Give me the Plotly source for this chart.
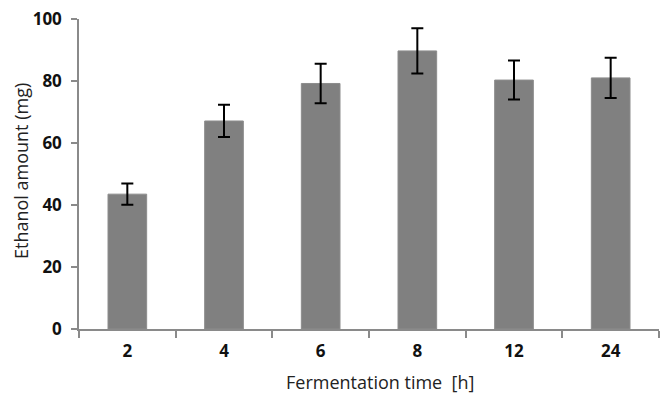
import plotly.graph_objects as go

categories = ["2", "4", "6", "8", "12", "24"]
ethanol = [43.5, 67.1, 79.2, 89.7, 80.3, 81.0]
err = [3.4, 5.2, 6.4, 7.3, 6.3, 6.5]
y_ticks = [0, 20, 40, 60, 80, 100]

fig = go.Figure(go.Bar(
    x=categories, y=ethanol,
    marker=dict(color="#808080", line=dict(color="#8c8c8c", width=1)),
    width=0.4,
    error_y=dict(type="data", array=err, color="black", thickness=2, width=6),
))

fig.update_layout(
    width=660, height=395,
    margin=dict(l=79, r=1, t=19, b=66),
    paper_bgcolor="white", plot_bgcolor="white",
    showlegend=False,
    font=dict(family="Open Sans", color="#222"),
    annotations=[
        dict(text="Fermentation time  [h]", xref="paper", yref="paper",
             x=0.5, y=0, xshift=11, yshift=-53, showarrow=False,
             xanchor="center", yanchor="middle",
             font=dict(family="Open Sans", size=18, color="#222")),
        dict(text="Ethanol amount (mg)", xref="paper", yref="paper",
             x=0, y=0.5, xshift=-58, yshift=3, showarrow=False, textangle=-90,
             xanchor="center", yanchor="middle",
             font=dict(family="Open Sans", size=18, color="#222")),
    ],
)
fig.update_xaxes(
    type="category",
    showline=True, linecolor="#8a8a8a", linewidth=1.5,
    ticks="outside", tickson="boundaries", ticklen=7, tickcolor="#8a8a8a", tickwidth=1.5,
    tickfont=dict(family="Open Sans", size=17, color="#111", weight="bold"),
    ticklabelstandoff=6,
    showgrid=False,
)
fig.update_yaxes(
    range=[0, 100], tickvals=y_ticks,
    showline=True, linecolor="#8a8a8a", linewidth=1.5,
    ticks="outside", ticklen=6, tickcolor="#8a8a8a", tickwidth=1.5,
    tickfont=dict(family="Open Sans", size=17, color="#111", weight="bold"),
    ticklabelstandoff=6,
    showgrid=False, zeroline=False,
)

fig.write_html("out.html")
